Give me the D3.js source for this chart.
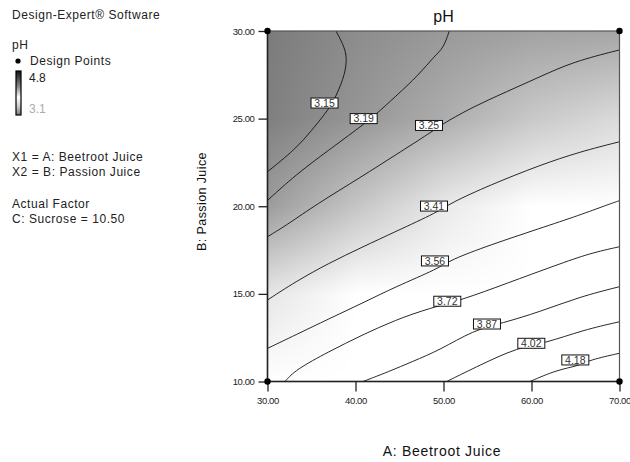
<!DOCTYPE html>
<html><head><meta charset="utf-8">
<script src="https://cdn.jsdelivr.net/npm/d3@7"></script>
<style>
body{margin:0;background:#fff;}
svg{display:block;font-family:"Liberation Sans",Arial,sans-serif;}
</style></head><body>
<svg id="chart" width="630" height="462"></svg>
<script>
// ---- data ----
const aTicks = [30, 40, 50, 60, 70];
const bTicks = [10, 15, 20, 25, 30];
const gridA = [30, 40, 50, 60, 70];
const gridB = [10, 15, 20, 25, 30];
// estimated pH at grid nodes (rows: B = 10..30, cols: A = 30..70)
const phGrid = [
  [3.68, 3.86, 4.02, 4.18, 4.32],
  [3.40, 3.53, 3.66, 3.81, 3.90],
  [3.20, 3.31, 3.41, 3.51, 3.57],
  [3.12, 3.18, 3.245, 3.32, 3.37],
  [3.11, 3.155, 3.19, 3.215, 3.225]
];
const contourLevels = [3.15, 3.19, 3.25, 3.41, 3.56, 3.72, 3.87, 4.02, 4.18];
const c315 = [[37.78,30],[38.84,29.01],[39.03,28.25],[38.66,27.30],[37.52,25.97],[36.57,25.30],[35.06,24.35],[33.16,23.25],[30,21.97]];
const c319 = [[50.66,30],[49.98,29.01],[49.07,28.63],[47.18,27.49],[44.52,26.25],[42.25,25.21],[40.74,24.60],[36.95,23.20],[33.16,21.78],[30,20.33]];
const c325 = [[70,28.92],[64.75,28.25],[60.97,27.39],[57.18,26.54],[53.39,25.68],[49.98,24.73],[48.69,24.25],[44.52,22.92],[40.74,21.70],[35.43,20.07],[32.41,19.00],[30,18.26]];
const c341 = [[70,23.68],[65.51,23.11],[60.97,22.35],[55.28,21.21],[50.74,20.17],[49.45,19.69],[44.52,18.55],[40.74,17.66],[36.95,16.75],[33.16,15.69],[30,14.65]];
const c356 = [[70,20.32],[68.55,20.07],[65.51,19.50],[60.97,18.74],[55.28,17.79],[50.74,16.93],[49.45,16.45],[44.52,15.40],[40.74,14.46],[36.95,13.57],[33.16,12.65],[30,11.89]];
const c372 = [[70,17.69],[66.65,17.32],[62.86,16.65],[57.18,15.60],[52.07,14.65],[48.5,14.2],[44.52,13.51],[40.74,12.65],[36.95,11.70],[33.16,10.66],[31.99,10]];
const c387 = [[70,15.41],[65.51,14.84],[60.97,13.98],[56.61,13.32],[53.39,12.92],[49.60,11.80],[46.42,11.13],[43.77,10.56],[40.85,10]];
const c402 = [[70,13.41],[65.89,12.94],[61.53,12.18],[58.50,11.95],[54.15,10.94],[50.36,10]];
const c418 = [[70,11.61],[66.59,11.23],[65.45,10.90],[62.86,10.66],[59.83,10]];
const contourLines = [c315, c319, c325, c341, c356, c372, c387, c402, c418];
// label positions [A, B]
const labelPos = [[36.48,25.89],[40.93,25.0],[48.35,24.61],[48.92,20.01],[49.03,16.88],[50.43,14.58],[54.94,13.28],[59.98,12.18],[64.98,11.23]];
const designPoints = [[30,10],[30,30],[70,10],[70,30]];

// ---- layout ----
const svg = d3.select("#chart");
const x = d3.scaleLinear().domain([30, 70]).range([267.5, 619.5]);
const y = d3.scaleLinear().domain([10, 30]).range([381.5, 31]);
const gray = d3.scaleLinear().domain([3.1, 3.47]).range([120, 255]).clamp(true);

// shading (Gouraud-like bilinear interpolation of node colours)
const pw = Math.round(x(70) - x(30)), ph = Math.round(y(10) - y(30));
const cv = document.createElement("canvas");
cv.width = pw; cv.height = ph;
const ctx = cv.getContext("2d");
const img = ctx.createImageData(pw, ph);
const gNodes = phGrid.map(r => r.map(v => gray(v)));
for (let j = 0; j < ph; j++) {
  const b = y.invert(y(30) + j + 0.5);
  let bi = Math.min(gridB.length - 2, Math.max(0, d3.bisectRight(gridB, b) - 1));
  const tb = (b - gridB[bi]) / (gridB[bi + 1] - gridB[bi]);
  for (let i = 0; i < pw; i++) {
    const a = x.invert(x(30) + i + 0.5);
    let ai = Math.min(gridA.length - 2, Math.max(0, d3.bisectRight(gridA, a) - 1));
    const ta = (a - gridA[ai]) / (gridA[ai + 1] - gridA[ai]);
    const g00 = gNodes[bi][ai], g01 = gNodes[bi][ai + 1], g10 = gNodes[bi + 1][ai], g11 = gNodes[bi + 1][ai + 1];
    const g = (g00 * (1 - ta) + g01 * ta) * (1 - tb) + (g10 * (1 - ta) + g11 * ta) * tb;
    const k = (j * pw + i) * 4;
    img.data[k] = img.data[k + 1] = img.data[k + 2] = Math.round(g);
    img.data[k + 3] = 255;
  }
}
ctx.putImageData(img, 0, 0);
svg.append("image").attr("x", x(30)).attr("y", y(30)).attr("width", pw).attr("height", ph)
  .attr("preserveAspectRatio", "none").attr("href", cv.toDataURL());

// contour lines
const line = d3.line().x(d => x(d[0])).y(d => y(d[1])).curve(d3.curveBasis);
svg.append("g").selectAll("path").data(contourLines).join("path")
  .attr("d", line).attr("fill", "none").attr("stroke", "#111").attr("stroke-width", 0.9);

// contour labels
const lg = svg.append("g").selectAll("g").data(contourLevels).join("g")
  .attr("transform", (d, i) => `translate(${x(labelPos[i][0])},${y(labelPos[i][1])})`);
lg.append("rect").attr("x", -13.5).attr("y", -5).attr("width", 27).attr("height", 10)
  .attr("fill", "#fff").attr("stroke", "#111").attr("stroke-width", 1);
lg.append("text").attr("text-anchor", "middle").attr("y", 3.8).attr("font-size", 10.5)
  .attr("fill", "#333").text(d => d.toFixed(2));

// plot frame
svg.append("rect").attr("x", x(30)).attr("y", y(30)).attr("width", x(70) - x(30)).attr("height", y(10) - y(30))
  .attr("fill", "none").attr("stroke", "#555").attr("stroke-width", 1.2);
svg.append("line").attr("x1", x(30)).attr("x2", x(70)).attr("y1", y(10)).attr("y2", y(10)).attr("stroke", "#222").attr("stroke-width", 1.5);
svg.append("line").attr("x1", x(30)).attr("x2", x(30)).attr("y1", y(10)).attr("y2", y(30)).attr("stroke", "#222").attr("stroke-width", 1.5);

// axes
const fmt = d3.format(".2f");
const xAxis = svg.append("g").attr("transform", `translate(0,${y(10)})`)
  .call(d3.axisBottom(x).tickValues(aTicks).tickFormat(fmt).tickSize(10).tickPadding(6));
const yAxis = svg.append("g").attr("transform", `translate(${x(30)},0)`)
  .call(d3.axisLeft(y).tickValues(bTicks).tickFormat(fmt).tickSize(9).tickPadding(4));
[xAxis, yAxis].forEach(g => {
  g.select(".domain").remove();
  g.selectAll("line").attr("stroke", "#222").attr("stroke-width", 1.3);
  g.selectAll("text").attr("font-size", 9.5).attr("fill", "#222")
    .attr("font-family", '"Liberation Sans",Arial,sans-serif').attr("letter-spacing", -0.4);
});

// design points
svg.append("g").selectAll("circle").data(designPoints).join("circle")
  .attr("cx", d => x(d[0])).attr("cy", d => y(d[1])).attr("r", 3.2).attr("fill", "#000");

// titles
svg.append("text").attr("x", (x(30) + x(70)) / 2).attr("y", 22).attr("text-anchor", "middle")
  .attr("font-size", 16).attr("fill", "#111").text("pH");
svg.append("text").attr("x", 442).attr("y", 456).attr("text-anchor", "middle")
  .attr("font-size", 14).attr("fill", "#111").attr("letter-spacing", 0.7).text("A: Beetroot Juice");
svg.append("text").attr("transform", `translate(206,201.5) rotate(-90)`)
  .attr("text-anchor", "middle").attr("font-size", 12.5).attr("fill", "#111").attr("letter-spacing", 0.4)
  .text("B: Passion Juice");

// left info panel
const info = [
  ["Design-Expert® Software", 12, 19],
  ["pH", 12, 49],
  ["Design Points", 30, 65],
  ["X1 = A: Beetroot Juice", 12, 161],
  ["X2 = B: Passion Juice", 12, 176],
  ["Actual Factor", 12, 208],
  ["C: Sucrose = 10.50", 12, 223]
];
svg.append("g").selectAll("text").data(info).join("text")
  .attr("x", d => d[1]).attr("y", d => d[2]).attr("font-size", 12).attr("fill", "#222")
  .attr("letter-spacing", 0.55).text(d => d[0]);
svg.append("circle").attr("cx", 18).attr("cy", 61).attr("r", 2.6).attr("fill", "#000");
const defs = svg.append("defs");
const grad = defs.append("linearGradient").attr("id", "lgd").attr("x1", 0).attr("x2", 0).attr("y1", 0).attr("y2", 1);
[[0, "#111"], [0.35, "#888"], [0.6, "#fff"], [0.8, "#ccc"], [1, "#777"]].forEach(s =>
  grad.append("stop").attr("offset", s[0]).attr("stop-color", s[1]));
svg.append("rect").attr("x", 16).attr("y", 71).attr("width", 5).attr("height", 44)
  .attr("fill", "url(#lgd)").attr("stroke", "#000").attr("stroke-width", 1.2);
svg.append("text").attr("x", 29).attr("y", 82).attr("font-size", 12).attr("fill", "#222").text("4.8");
svg.append("text").attr("x", 29).attr("y", 113).attr("font-size", 12).attr("fill", "#aaa").text("3.1");
</script></body></html>
